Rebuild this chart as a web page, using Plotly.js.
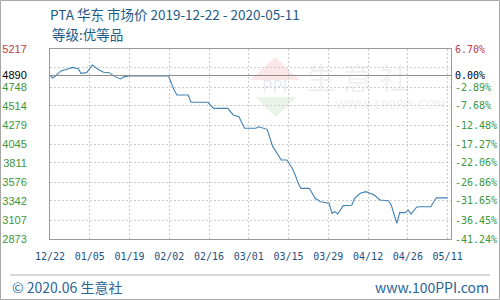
<!DOCTYPE html>
<html><head><meta charset="utf-8">
<script src="https://cdn.plot.ly/plotly-3.0.1.min.js"></script>
<style>html,body{margin:0;padding:0;background:#fff;}#chart{width:500px;height:300px;}</style>
</head><body><div id="chart"></div>
<script>
const dates = ['2019-12-22','2019-12-23','2019-12-24','2019-12-26','2019-12-28','2019-12-30','2020-01-01','2020-01-02','2020-01-04','2020-01-06','2020-01-08','2020-01-10','2020-01-12','2020-01-14','2020-01-16','2020-01-17','2020-01-19','2020-02-02','2020-02-04','2020-02-05','2020-02-09','2020-02-10','2020-02-16','2020-02-18','2020-02-23','2020-02-25','2020-02-27','2020-02-28','2020-02-29','2020-03-04','2020-03-05','2020-03-08','2020-03-09','2020-03-10','2020-03-11','2020-03-12','2020-03-13','2020-03-15','2020-03-16','2020-03-17','2020-03-18','2020-03-19','2020-03-20','2020-03-23','2020-03-25','2020-03-27','2020-03-30','2020-03-31','2020-04-01','2020-04-02','2020-04-04','2020-04-07','2020-04-08','2020-04-10','2020-04-12','2020-04-15','2020-04-17','2020-04-20','2020-04-21','2020-04-23','2020-04-24','2020-04-26','2020-04-27','2020-04-28','2020-04-30','2020-05-01','2020-05-05','2020-05-07','2020-05-11'];
const prices = [4890,4860,4885,4950,4967,4990,4975,4917,4925,5020,4967,4930,4925,4876,4847,4870,4885,4885,4711,4650,4650,4560,4560,4485,4485,4403,4382,4300,4239,4239,4258,4226,4130,4012,3960,3900,3848,3848,3800,3740,3660,3560,3498,3498,3375,3333,3313,3190,3210,3181,3285,3289,3375,3437,3457,3416,3354,3345,3292,3067,3200,3198,3231,3181,3265,3271,3271,3382,3380];
const xLabels = ['12/22','01/05','01/19','02/02','02/16','03/01','03/15','03/29','04/12','04/26','05/11'];
const yTicks = [2873,3107,3342,3576,3811,4045,4279,4514,4748,4890,4983,5217];
const yLabels = ['2873','3107','3342','3576','3811','4045','4279','4514','4748','4890','','5217'];
const pctLabels = ['-41.24%','-36.45%','-31.65%','-26.86%','-22.06%','-17.27%','-12.48%','-7.68%','-2.89%','0.00%','','6.70%'];
const basePrice = 4890;
const titleText = 'PTA 华东 市场价 2019-12-22 - 2020-05-11';
const subTitle = '等级:优等品';

const DAY = 86400000;
const base = Date.UTC(2019,11,22);
function fmt(ms){return new Date(ms).toISOString().replace('T',' ').slice(0,19);}
const xTickVals = xLabels.map((_,k)=>fmt(base + k*14.1*DAY));
const xRange = [fmt(base), fmt(base + 142.2*DAY)];

function colorize(lbl, v){
  if(lbl==='') return '';
  let c = '#3a963a';
  if(v===5217) c = '#c23b3b';
  else if(v===basePrice) c = '#000000';
  return '<span style="color:'+c+'">'+lbl+'</span>';
}
const yText = yLabels.map((l,i)=>colorize(l,yTicks[i]));
const pText = pctLabels.map((l,i)=>colorize(l,yTicks[i]));

function px(x){return (x-50)/401;}
function py(y){return (239-y)/190;}

const trace = {
  x: dates, y: prices, type:'scatter', mode:'lines',
  line:{color:'#4282b4', width:1.1}, hoverinfo:'skip', showlegend:false
};
const trace2 = {x:[dates[0]], y:[prices[0]], yaxis:'y2', mode:'lines', showlegend:false, hoverinfo:'skip', line:{width:0}};

const layout = {
  width:500, height:300,
  margin:{l:50, r:49, t:49, b:61},
  paper_bgcolor:'#ffffff', plot_bgcolor:'#ffffff',
  title:{text:titleText, xref:'paper', x:0, xanchor:'left', yref:'container', y:0.95, yanchor:'middle',
    font:{family:'Noto Sans CJK SC, sans-serif', size:13.5, color:'#1e5a87'}},
  xaxis:{type:'date', range:xRange, tickmode:'array', tickvals:xTickVals, ticktext:xLabels,
    showgrid:true, gridcolor:'#cccccc', griddash:'2px,2px', gridwidth:1,
    showline:true, mirror:true, linecolor:'#9a9a9a', linewidth:1, ticks:'', zeroline:false,
    ticklabelstandoff:8,
    tickfont:{family:'DejaVu Sans Mono, monospace', size:10, color:'#1f4f7f'}},
  yaxis:{range:[2873,5217], tickmode:'array', tickvals:yTicks, ticktext:yText,
    showgrid:true, gridcolor:'#cccccc', griddash:'2px,2px', gridwidth:1,
    showline:true, mirror:true, linecolor:'#9a9a9a', linewidth:1, ticks:'', zeroline:false,
    ticklabelstandoff:20,
    tickfont:{family:'Liberation Sans, sans-serif', size:11, color:'#3a963a'}},
  yaxis2:{range:[2873,5217], overlaying:'y', side:'right', tickmode:'array', tickvals:yTicks, ticktext:pText,
    showgrid:false, showline:false, ticks:'', zeroline:false, ticklabelstandoff:3,
    tickfont:{family:'DejaVu Sans Mono, monospace', size:10, color:'#3a963a'}},
  shapes:[
    {type:'line', xref:'paper', x0:0, x1:1, yref:'y', y0:basePrice, y1:basePrice, line:{color:'#8c8c8c', width:1}},
    {type:'rect', xref:'paper', yref:'paper', x0:px(0.5), x1:px(499.5), y0:py(299.5), y1:py(0.5), line:{color:'#a8a8a8', width:1}, layer:'below'},
    {type:'line', xref:'paper', yref:'paper', x0:px(10), x1:px(490), y0:py(275), y1:py(275), line:{color:'#b0b0b0', width:1}},
    {type:'path', xref:'paper', yref:'paper', path:'M '+px(250)+' '+py(80)+' L '+px(275)+' '+py(57)+' L '+px(300)+' '+py(80)+' Z', fillcolor:'rgba(235,120,120,0.18)', line:{width:0}, layer:'below'},
    {type:'path', xref:'paper', yref:'paper', path:'M '+px(255)+' '+py(97)+' L '+px(297)+' '+py(97)+' L '+px(276)+' '+py(117)+' Z', fillcolor:'rgba(120,190,120,0.16)', line:{width:0}, layer:'below'}
  ],
  annotations:[
    {text:subTitle, xref:'paper', yref:'paper', x:0, y:py(34), xanchor:'left', yanchor:'middle', showarrow:false,
      font:{family:'Noto Sans CJK SC, sans-serif', size:13.5, color:'#1e5a87'}},
    {text:'PPI', xref:'paper', yref:'paper', x:px(275), y:py(87), xanchor:'center', yanchor:'middle', showarrow:false,
      font:{family:'DejaVu Sans, sans-serif', size:17, color:'rgba(150,160,195,0.22)'}},
    {text:'生 意 社', xref:'paper', yref:'paper', x:px(357), y:py(76), xanchor:'center', yanchor:'middle', showarrow:false,
      font:{family:'Noto Sans CJK SC, sans-serif', size:30, color:'rgba(190,190,190,0.22)'}},
    {text:'WWW.100PPI.COM', xref:'paper', yref:'paper', x:px(390), y:py(105), xanchor:'center', yanchor:'middle', showarrow:false,
      font:{family:'DejaVu Sans, sans-serif', size:12, color:'rgba(190,190,190,0.25)'}},
    {text:'© 2020.06 生意社', xref:'paper', yref:'paper', x:px(10), y:py(287), xanchor:'left', yanchor:'middle', showarrow:false,
      font:{family:'Noto Sans CJK SC, sans-serif', size:14, color:'#2a6496'}},
    {text:'www.100PPI.com', xref:'paper', yref:'paper', x:px(491), y:py(287), xanchor:'right', yanchor:'middle', showarrow:false,
      font:{family:'Noto Sans CJK SC, sans-serif', size:14, color:'#2a6496'}}
  ]
};
Plotly.newPlot('chart', [trace, trace2], layout, {staticPlot:true, displayModeBar:false});
</script>
</body></html>
